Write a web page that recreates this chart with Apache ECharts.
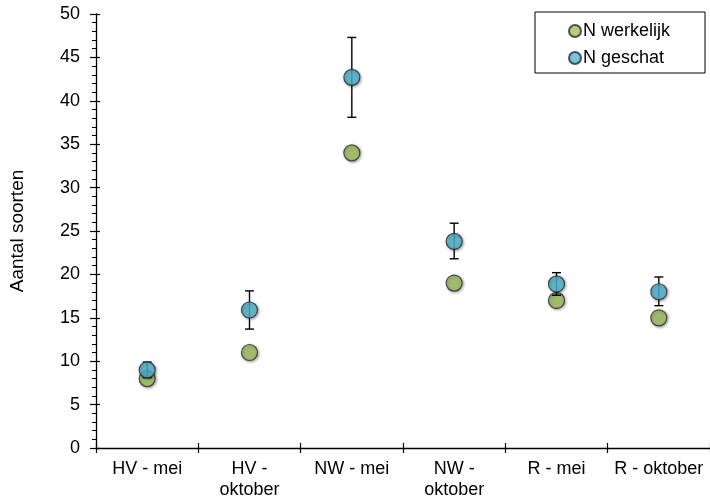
<!DOCTYPE html>
<html><head><meta charset="utf-8">
<script src="https://cdn.jsdelivr.net/npm/echarts@6/dist/echarts.min.js"></script>
<style>html,body{margin:0;padding:0;background:#fff}#c{width:710px;height:501px}</style>
</head><body><div id="c"></div>
<script>
const categories = ['HV - mei', 'HV -\noktober', 'NW - mei', 'NW -\noktober', 'R - mei', 'R - oktober'];
const werkelijk = [8, 11, 34, 19, 17, 15];
const geschat = [9, 15.9, 42.7, 23.8, 18.9, 18];
const errLow = [8.1, 13.7, 38.1, 21.8, 17.6, 16.4];
const errHigh = [9.9, 18.1, 47.3, 25.9, 20.2, 19.7];
const yTicks = [0, 50, 5];

const font = 'Liberation Sans, Arial, sans-serif';
const chart = echarts.init(document.getElementById('c'));
const markerStyle = (c) => ({
  color: c, borderColor: '#2a2a2a', borderWidth: 1.2,
  shadowBlur: 3, shadowColor: 'rgba(0,0,0,0.45)', shadowOffsetX: 1, shadowOffsetY: 1
});
const lab = { fontFamily: font, fontSize: 18, color: '#000' };
chart.setOption({
  animation: false,
  grid: { left: 96, top: 14, width: 618, height: 434 },
  legend: {
    left: 535, top: 12, orient: 'vertical',
    data: ['N werkelijk', 'N geschat'],
    icon: 'circle', itemWidth: 12, itemHeight: 12, itemGap: 9,
    padding: [10, 35, 6, 33],
    borderColor: '#000', borderWidth: 1,
    textStyle: Object.assign({}, lab, { lineHeight: 18, padding: [0, 0, 0, -3] })
  },
  xAxis: [{
    type: 'category', data: categories, boundaryGap: true,
    axisLine: { lineStyle: { color: '#000', width: 1.3 } },
    axisTick: { show: true, length: 5, lineStyle: { color: '#000', width: 1.2 } },
    axisLabel: Object.assign({}, lab, { margin: 11, lineHeight: 21, interval: 0 })
  }, {
    type: 'category', data: categories, boundaryGap: true, position: 'bottom',
    axisLine: { show: false },
    axisTick: { show: true, inside: true, length: 5, lineStyle: { color: '#000', width: 1.2 } },
    axisLabel: { show: false }
  }],
  yAxis: [{
    type: 'value', min: yTicks[0], max: yTicks[1], interval: yTicks[2],
    name: 'Aantal soorten', nameLocation: 'middle', nameGap: 69,
    nameTextStyle: Object.assign({}, lab, { fontSize: 19 }),
    axisLine: { show: true, lineStyle: { color: '#000', width: 1.3 } },
    axisTick: { show: true, length: 6, lineStyle: { color: '#000', width: 1.2 } },
    minorTick: { show: true, splitNumber: 5, length: 4, lineStyle: { color: '#000', width: 1 } },
    splitLine: { show: false },
    axisLabel: Object.assign({}, lab, { margin: 16 })
  }, {
    type: 'value', min: yTicks[0], max: yTicks[1], interval: yTicks[2], position: 'left',
    axisLine: { show: false },
    axisTick: { show: true, inside: true, length: 4, lineStyle: { color: '#000', width: 1.2 } },
    splitLine: { show: false },
    axisLabel: { show: false }
  }],
  series: [
    {
      name: 'N werkelijk', type: 'scatter', data: werkelijk, symbolSize: 16, z: 2,
      itemStyle: markerStyle('#A0C05E')
    },
    {
      name: 'err', type: 'custom', z: 3,
      data: errLow.map((l, i) => [i, l, errHigh[i]]),
      renderItem: (params, api) => {
        const lo = api.coord([api.value(0), api.value(1)]);
        const hi = api.coord([api.value(0), api.value(2)]);
        const w = 4.5;
        const st = { stroke: '#000', lineWidth: 1.4 };
        return { type: 'group', children: [
          { type: 'line', shape: { x1: lo[0], y1: lo[1], x2: hi[0], y2: hi[1] }, style: st },
          { type: 'line', shape: { x1: lo[0] - w, y1: lo[1], x2: lo[0] + w, y2: lo[1] }, style: st },
          { type: 'line', shape: { x1: hi[0] - w, y1: hi[1], x2: hi[0] + w, y2: hi[1] }, style: st }
        ]};
      }
    },
    {
      name: 'N geschat', type: 'scatter', data: geschat, symbolSize: 16, z: 4,
      itemStyle: markerStyle('#4FB6D3')
    }
  ]
});
</script></body></html>
